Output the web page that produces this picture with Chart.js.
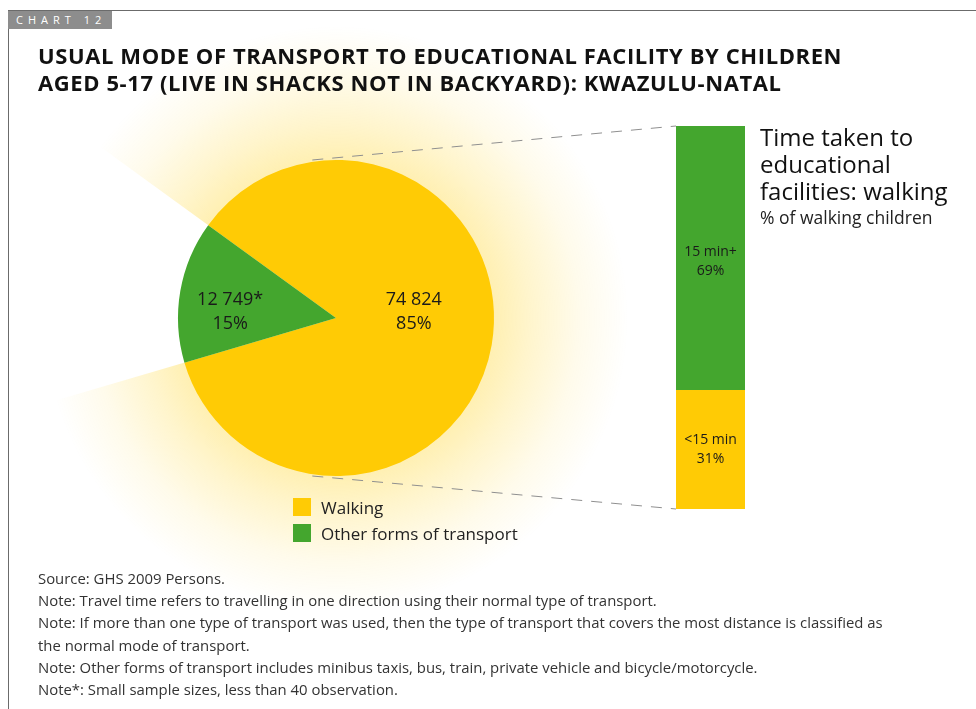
<!DOCTYPE html>
<html>
<head>
<meta charset="utf-8">
<script src="https://cdn.jsdelivr.net/npm/chart.js@4"></script>
<style>
  body { margin: 0; width: 976px; height: 709px; background: #fff; overflow: hidden; font-family: "Open Sans", sans-serif; color: #1a1a1a; }
  #page { position: relative; width: 976px; height: 709px; }
  .frame-top { position: absolute; left: 8px; top: 10px; width: 968px; height: 1px; background: #6b6b6b; }
  .frame-left { position: absolute; left: 8px; top: 10px; width: 1px; height: 699px; background: #6b6b6b; }
  .tag { position: absolute; left: 8px; top: 11px; width: 104px; height: 18px; background: #8d8d8d; color: #fff; font-size: 11px; line-height: 18px; letter-spacing: 5px; padding-left: 8px; box-sizing: border-box; z-index: 2; }
  h1 { position: absolute; left: 38px; top: 42px; margin: 0; font-size: 22px; line-height: 27px; font-weight: 700; letter-spacing: 0.6px; color: #111; z-index: 2; white-space: nowrap; }
  #pieWrap { position: absolute; left: 36px; top: 18px; width: 600px; height: 600px; z-index: 1; }
  #barWrap { position: absolute; left: 676px; top: 126px; width: 69px; height: 383px; z-index: 2; }
  #lines { position: absolute; left: 0; top: 0; z-index: 1; pointer-events: none; }
  .side { position: absolute; left: 760px; top: 123px; z-index: 2; }
  .side .big { font-size: 24px; line-height: 27px; color: #111; }
  .side .small { font-size: 17.5px; line-height: 27px; color: #222; }
  #legend { position: absolute; left: 293px; top: 494px; z-index: 2; font-size: 17px; color: #222; }
  #legend div { height: 26px; display: flex; align-items: center; }
  #legend span.box { width: 18px; height: 18px; margin-right: 10px; display: inline-block; }
  .notes { position: absolute; left: 38px; top: 567px; z-index: 2; font-size: 14.9px; line-height: 22.2px; color: #333; white-space: nowrap; }
  .notes p { margin: 0; }
</style>
</head>
<body>
<div id="page">
  <div class="frame-top"></div>
  <div class="frame-left"></div>
  <div class="tag">CHART 12</div>
  <h1>USUAL MODE OF TRANSPORT TO EDUCATIONAL FACILITY BY CHILDREN<br>AGED 5-17 (LIVE IN SHACKS NOT IN BACKYARD): KWAZULU-NATAL</h1>
  <div id="pieWrap"><canvas id="pie"></canvas></div>
  <canvas id="lines" width="976" height="709"></canvas>
  <div id="barWrap"><canvas id="bar"></canvas></div>
  <div class="side">
    <div class="big">Time taken to<br>educational<br>facilities: walking</div>
    <div class="small">% of walking children</div>
  </div>
  <div id="legend"></div>
  <div class="notes">
    <p>Source: GHS 2009 Persons.</p>
    <p>Note: Travel time refers to travelling in one direction using their normal type of transport.</p>
    <p>Note: If more than one type of transport was used, then the type of transport that covers the most distance is classified as<br>the normal mode of transport.</p>
    <p>Note: Other forms of transport includes minibus taxis, bus, train, private vehicle and bicycle/motorcycle.</p>
    <p>Note*: Small sample sizes, less than 40 observation.</p>
  </div>
</div>
<script>
// pie: usual mode of transport
const modes = ['Walking', 'Other forms of transport'];
const modeCounts = [74824, 12749];
const modeCountText = ['74 824', '12 749*'];
const modePct = [85, 15];

// bar: time taken, walking children (bottom to top)
const timeLabels = ['<15 min', '15 min+'];
const timePct = [31, 69];

const YELLOW = '#ffcb05';
const GREEN = '#44a62e';
const modeColors = [YELLOW, GREEN];
const timeColors = [YELLOW, GREEN];

Chart.defaults.font.family = '"Open Sans", sans-serif';
Chart.defaults.animation = false;

// soft glow behind the walking slice
const glowPlugin = {
  id: 'glow',
  beforeDatasetsDraw(chart) {
    const arc = chart.getDatasetMeta(0).data[0];
    const ctx = chart.ctx;
    const r0 = arc.outerRadius, r1 = arc.outerRadius * 1.85;
    const g = ctx.createRadialGradient(arc.x, arc.y, r0 * 0.95, arc.x, arc.y, r1);
    g.addColorStop(0, 'rgba(255,204,0,0.32)');
    g.addColorStop(0.3, 'rgba(255,204,0,0.2)');
    g.addColorStop(0.65, 'rgba(255,204,0,0.08)');
    g.addColorStop(1, 'rgba(255,204,0,0)');
    ctx.save();
    ctx.beginPath();
    ctx.moveTo(arc.x, arc.y);
    ctx.arc(arc.x, arc.y, r1, arc.startAngle, arc.endAngle);
    ctx.closePath();
    ctx.fillStyle = g;
    ctx.fill();
    ctx.restore();
  }
};

// labels sit on the pie's horizontal midline, x taken from each slice
const labelRadius = [0.5, 0.68];
const pieLabels = {
  id: 'pieLabels',
  afterDatasetsDraw(chart) {
    const ctx = chart.ctx;
    ctx.save();
    ctx.fillStyle = '#1a1a1a';
    ctx.font = '18px "Open Sans", sans-serif';
    ctx.textAlign = 'center';
    ctx.textBaseline = 'middle';
    chart.getDatasetMeta(0).data.forEach((arc, i) => {
      const mid = (arc.startAngle + arc.endAngle) / 2;
      const x = arc.x + Math.cos(mid) * arc.outerRadius * labelRadius[i];
      const y = arc.y - 6;
      ctx.fillText(modeCountText[i], x, y - 12);
      ctx.fillText(modePct[i] + '%', x, y + 12);
    });
    ctx.restore();
  }
};

const pieChart = new Chart(document.getElementById('pie'), {
  type: 'pie',
  data: {
    labels: modes,
    datasets: [{ data: modeCounts, backgroundColor: modeColors, borderWidth: 0 }]
  },
  options: {
    responsive: true,
    maintainAspectRatio: false,
    rotation: -54,
    layout: { padding: 142 },
    plugins: { legend: { display: false }, tooltip: { enabled: false } }
  },
  plugins: [glowPlugin, pieLabels]
});

const barLabels = {
  id: 'barLabels',
  afterDatasetsDraw(chart) {
    const ctx = chart.ctx;
    ctx.save();
    ctx.fillStyle = '#1a1a1a';
    ctx.font = '14px "Open Sans", sans-serif';
    ctx.textAlign = 'center';
    ctx.textBaseline = 'middle';
    chart.data.datasets.forEach((ds, i) => {
      const el = chart.getDatasetMeta(i).data[0];
      const y = (el.y + el.base) / 2 + (i === 1 ? 4 : 0);
      ctx.fillText(ds.label, el.x, y - 10);
      ctx.fillText(ds.data[0] + '%', el.x, y + 9);
    });
    ctx.restore();
  }
};

const barChart = new Chart(document.getElementById('bar'), {
  type: 'bar',
  data: {
    labels: ['Walking'],
    datasets: timeLabels.map((t, i) => ({
      label: t, data: [timePct[i]], backgroundColor: timeColors[i],
      borderWidth: 0, categoryPercentage: 1, barPercentage: 1
    }))
  },
  options: {
    responsive: true,
    maintainAspectRatio: false,
    layout: { padding: 0 },
    scales: {
      x: { stacked: true, display: false },
      y: { stacked: true, display: false, min: 0, max: 100 }
    },
    plugins: { legend: { display: false }, tooltip: { enabled: false } }
  },
  plugins: [barLabels]
});

// dashed connectors from the walking slice to the bar
function drawConnectors() {
  const arc = pieChart.getDatasetMeta(0).data[0];
  const pieBox = document.getElementById('pieWrap').getBoundingClientRect();
  const barBox = document.getElementById('barWrap').getBoundingClientRect();
  const cx = pieBox.left + arc.x, cy = pieBox.top + arc.y, r = arc.outerRadius;
  const top = barBox.top + barChart.scales.y.getPixelForValue(100);
  const bot = barBox.top + barChart.scales.y.getPixelForValue(0);
  const ctx = document.getElementById('lines').getContext('2d');
  ctx.strokeStyle = '#8f8f8f';
  ctx.lineWidth = 1;
  ctx.setLineDash([11, 9]);
  ctx.beginPath();
  ctx.moveTo(cx - r * 0.15, cy - r);
  ctx.lineTo(barBox.left, top);
  ctx.moveTo(cx - r * 0.15, cy + r);
  ctx.lineTo(barBox.left, bot);
  ctx.stroke();
}
drawConnectors();

// legend built from the pie data
const legend = document.getElementById('legend');
modes.forEach((m, i) => {
  const row = document.createElement('div');
  row.innerHTML = '<span class="box" style="background:' + modeColors[i] + '"></span>' + m;
  legend.appendChild(row);
});
</script>
</body>
</html>
